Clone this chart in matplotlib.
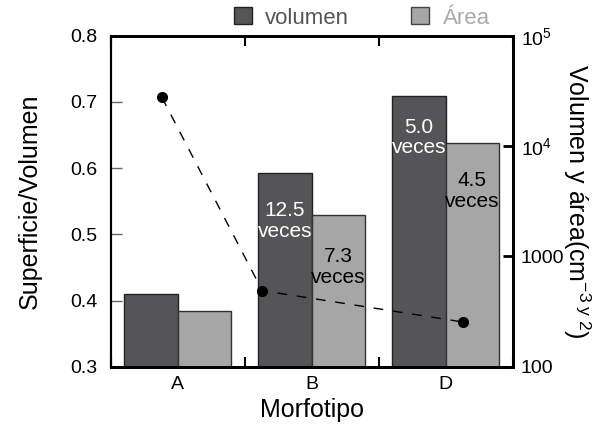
import matplotlib
matplotlib.use("Agg")
import matplotlib.pyplot as plt
from matplotlib.patches import Patch
from matplotlib.ticker import FixedLocator, FixedFormatter, NullFormatter

plt.rcParams['font.family'] = ['Liberation Sans', 'DejaVu Sans']
plt.rcParams['mathtext.fontset'] = 'custom'
plt.rcParams['mathtext.rm'] = 'Liberation Sans'
plt.rcParams['mathtext.it'] = 'Liberation Sans:italic'

# Data
morfotipos = ['A', 'B', 'D']
volumen = [455, 5690, 28450]        # cm^3
area = [322, 2350, 10580]           # cm^2
sv_x = [-0.12, 0.63, 2.13]          # x positions of the surface/volume points
sv_ratio = [0.707, 0.415, 0.3675]   # Superficie/Volumen

vol_color = '#555557'
area_color = '#a6a6a6'

fig = plt.figure(figsize=(6.03, 4.29), dpi=100)
ax_bar = fig.add_axes([0.184, 0.1452, 0.666, 0.7716])
ax_sv = ax_bar.twinx()

# Bars on a log scale (right axis)
width = 0.4
xs = list(range(len(morfotipos)))
ax_bar.bar([x - width / 2 for x in xs], volumen, width, color=vol_color,
           edgecolor='#222222', linewidth=1)
ax_bar.bar([x + width / 2 for x in xs], area, width, color=area_color,
           edgecolor='#333333', linewidth=1)
ax_bar.set_yscale('log')
ax_bar.set_ylim(100, 1e5)
ax_bar.set_xlim(-0.5, 2.5)

# Fold-increase labels inside the bars
def ratio_label(vals, i):
    return f"{vals[i] / vals[i - 1]:.1f}\nveces"

label_y_vol = {1: 2090, 2: 11950}
label_y_area = {1: 800, 2: 3910}
for i in (1, 2):
    ax_bar.text(xs[i] - width / 2, label_y_vol[i], ratio_label(volumen, i),
                ha='center', va='center', color='white', fontsize=15,
                linespacing=1.12)
    ax_bar.text(xs[i] + width / 2, label_y_area[i], ratio_label(area, i),
                ha='center', va='center', color='black', fontsize=15,
                linespacing=1.12)

# Right axis (log) formatting
ax_bar.yaxis.tick_right()
ax_bar.yaxis.set_label_position('right')
ax_bar.yaxis.set_major_locator(FixedLocator([100, 1000, 1e4, 1e5]))
ax_bar.yaxis.set_major_formatter(FixedFormatter(
    ['100', '1000', r'$\mathregular{10^4}$', r'$\mathregular{10^5}$']))
ax_bar.yaxis.set_minor_locator(FixedLocator([]))
ax_bar.tick_params(axis='y', which='major', direction='in', length=7,
                   width=2, labelsize=14, pad=6)
ax_bar.set_ylabel(r'Volumen y área(cm$^{\mathregular{-3\ y\ 2}}$)',
                  fontsize=18, rotation=270, labelpad=20)

# X axis: labels at group centres, ticks at group boundaries
ax_bar.xaxis.set_major_locator(FixedLocator(xs))
ax_bar.xaxis.set_major_formatter(FixedFormatter(morfotipos))
ax_bar.xaxis.set_minor_locator(FixedLocator([-0.5, 0.5, 1.5, 2.5]))
ax_bar.xaxis.set_minor_formatter(NullFormatter())
ax_bar.tick_params(axis='x', which='major', length=0, labelsize=14, pad=7)
ax_bar.tick_params(axis='x', which='minor', direction='in', length=7,
                   width=1.5, top=True, bottom=True)
ax_bar.set_xlabel('Morfotipo', fontsize=18, labelpad=3)

# Surface/volume ratio (left axis)
ax_sv.plot(sv_x, sv_ratio, linestyle=(0, (7, 7)), color='black', linewidth=1,
           marker='o', markersize=7, zorder=5)
ax_sv.set_ylim(0.3, 0.8)
ax_sv.yaxis.tick_left()
ax_sv.yaxis.set_label_position('left')
ax_sv.yaxis.set_major_locator(FixedLocator([0.3, 0.4, 0.5, 0.6, 0.7, 0.8]))
ax_sv.yaxis.set_major_formatter(FixedFormatter(
    ['0.3', '0.4', '0.5', '0.6', '0.7', '0.8']))
ax_sv.tick_params(axis='y', direction='in', length=8, width=1,
                  color='#666666', labelsize=14, pad=10)
ax_sv.set_ylabel('Superficie/Volumen', fontsize=18, labelpad=20)

for a in (ax_bar, ax_sv):
    for side in ('top', 'bottom', 'right'):
        a.spines[side].set_linewidth(2)
    a.spines['left'].set_linewidth(1.5)

# Legend above the plot
handles = [Patch(facecolor=vol_color, edgecolor='#222222', linewidth=1),
           Patch(facecolor=area_color, edgecolor='#444444', linewidth=1)]
leg = fig.legend(handles, ['volumen', 'Área'], loc='center',
                 bbox_to_anchor=(0.60, 0.958), ncol=2, frameon=False,
                 fontsize=16, handlelength=0.8, handleheight=0.8,
                 handletextpad=0.6, columnspacing=2.8)
leg.get_texts()[0].set_color('#555555')
leg.get_texts()[1].set_color('#aaaaaa')

fig.savefig('out.png', dpi=100)
